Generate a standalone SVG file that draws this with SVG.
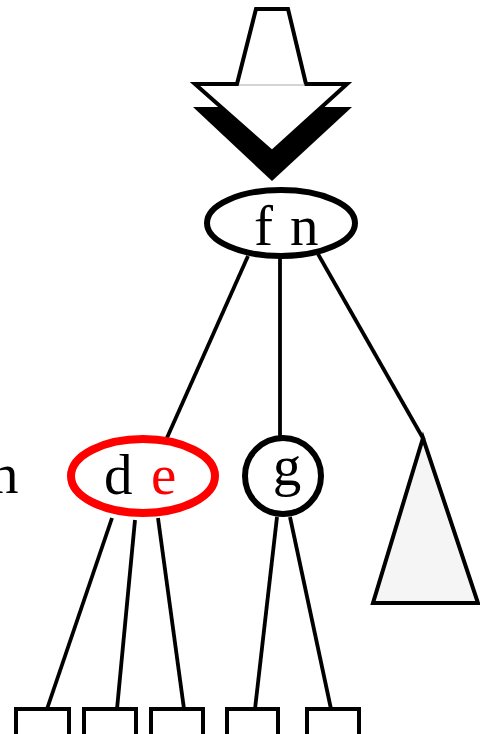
<svg xmlns="http://www.w3.org/2000/svg" width="480" height="734" viewBox="0 0 480 734">
<style>
.t{font-family:"Liberation Serif","Times New Roman",serif;font-size:57px;}
.e{stroke:#000;stroke-width:3.8;fill:none;}
.box{fill:#fff;stroke:#000;stroke-width:4;}
</style>
<rect width="480" height="734" fill="#fff"/>
<g id="arrow">
<polygon points="193,107 352,107 272,181" fill="#000"/>
<polygon points="256,9 288,9 306,84 347,84 272,152 195,84 237,84" fill="#fff" stroke="#000" stroke-width="4" stroke-linejoin="miter"/>
<line x1="239" y1="85" x2="305" y2="85" stroke="#aaa" stroke-width="1"/>
</g>
<g id="connectors">
<line class="e" x1="248" y1="256" x2="166" y2="440"/>
<line class="e" x1="280" y1="258" x2="280" y2="438"/>
<line class="e" x1="318" y1="254" x2="424" y2="440"/>
<line class="e" x1="112" y1="518" x2="47" y2="709"/>
<line class="e" x1="135" y1="520" x2="117" y2="709"/>
<line class="e" x1="158" y1="518" x2="184" y2="709"/>
<line class="e" x1="277" y1="517" x2="255" y2="709"/>
<line class="e" x1="290" y1="517" x2="331" y2="709"/>
</g>
<g id="fn">
<ellipse cx="281" cy="223" rx="74" ry="33" fill="#fff" stroke="#000" stroke-width="6"/>
<text class="t" x="254" y="245">f<tspan x="290">n</tspan></text>
</g>
<g id="de">
<ellipse cx="143" cy="476" rx="72" ry="37" fill="#fff" stroke="#f00" stroke-width="8"/>
<text class="t" x="104" y="494">d<tspan x="151" fill="#f00">e</tspan></text>
</g>
<g id="label-n">
<text class="t" x="-10" y="493">n</text>
</g>
<g id="g">
<circle cx="283" cy="476" r="38" fill="#fff" stroke="#000" stroke-width="6"/>
<text class="t" x="287" y="485" text-anchor="middle">g</text>
</g>
<g id="subtree">
<polygon points="423,438 373,603 478,603" fill="#f5f5f5" stroke="#000" stroke-width="4" stroke-linejoin="miter"/>
</g>
<g id="leaves">
<rect class="box" x="16" y="709" width="53" height="30"/>
<rect class="box" x="84" y="709" width="52" height="30"/>
<rect class="box" x="151" y="709" width="52" height="30"/>
<rect class="box" x="227" y="709" width="51" height="30"/>
<rect class="box" x="307" y="709" width="52" height="30"/>
</g>
</svg>
